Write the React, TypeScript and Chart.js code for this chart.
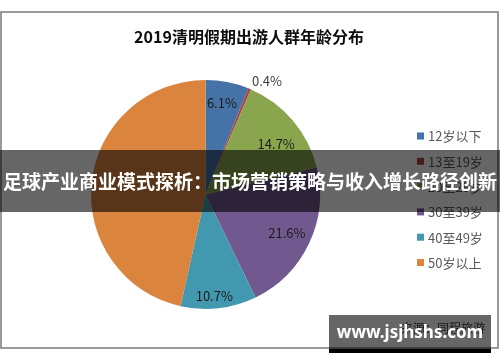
import React, { useEffect, useRef } from "react";
import { Chart, registerables } from "chart.js";

Chart.register(...registerables);

const chartTitle = "2019清明假期出游人群年龄分布";
const categories = ["12岁以下", "13至19岁", "20至29岁", "30至39岁", "40至49岁", "50岁以上"];
const shares = [6.1, 0.4, 14.7, 21.6, 10.7, 46.5];
const valueLabels = ["6.1%", "0.4%", "14.7%", "21.6%", "10.7%", ""];
const sourceText = "来源：同程旅游";
const bannerText = "足球产业商业模式探析：市场营销策略与收入增长路径创新";
const watermarkText = "www.jsjhshs.com";

const sliceColors = ["#4572A7", "#AA4643", "#89A54E", "#71588F", "#4198AF", "#DB843D"];
// label placement: radius fraction and angular nudge (degrees)
const labelPlacement = [
  { r: 0.81, da: -0.8, color: "#1b1b1b" },
  { r: 1.13, da: 5.7, color: "#404040" },
  { r: 0.76, da: 4.5, color: "#1b1b1b" },
  { r: 0.786, da: 0, color: "#1b1b1b" },
  { r: 0.89, da: 1.7, color: "#1b1b1b" },
  { r: 0.6, da: 0, color: "#1b1b1b" },
];

const FONT = '"Noto Sans CJK SC", "Noto Sans", sans-serif';

const decorPlugin = {
  id: "decor",
  afterDraw(chart: any) {
    const ctx = chart.ctx as CanvasRenderingContext2D;
    const meta = chart.getDatasetMeta(0);
    ctx.save();
    // value labels
    ctx.font = `13px ${FONT}`;
    ctx.textAlign = "center";
    ctx.textBaseline = "middle";
    meta.data.forEach((arc: any, i: number) => {
      const txt = valueLabels[i];
      if (!txt) return;
      const p = labelPlacement[i];
      const mid = (arc.startAngle + arc.endAngle) / 2 + (p.da * Math.PI) / 180;
      const R = arc.outerRadius;
      const x = arc.x + Math.cos(mid) * R * p.r;
      const y = arc.y + Math.sin(mid) * R * p.r;
      ctx.fillStyle = p.color;
      ctx.fillText(txt, x, y);
    });
    // legend
    ctx.textAlign = "left";
    ctx.font = `13px ${FONT}`;
    categories.forEach((c, i) => {
      const y = 136 + i * 25.3;
      ctx.fillStyle = sliceColors[i];
      ctx.fillRect(417, y - 3.5, 7, 7);
      ctx.fillStyle = "#595959";
      ctx.fillText(c, 428, y + 0.5);
    });
    // title
    ctx.textAlign = "center";
    ctx.font = `bold 16px ${FONT}`;
    ctx.fillStyle = "#0d0d0d";
    ctx.fillText(chartTitle, 249, 37);
    // source
    ctx.textAlign = "right";
    ctx.font = `12px ${FONT}`;
    ctx.fillStyle = "#404040";
    ctx.fillText(sourceText, 485, 328);
    ctx.restore();
  },
};

export default function App() {
  const ref = useRef<HTMLCanvasElement | null>(null);
  useEffect(() => {
    if (!ref.current) return;
    const chart = new Chart(ref.current, {
      type: "pie",
      data: {
        labels: categories,
        datasets: [
          {
            data: shares,
            backgroundColor: sliceColors,
            borderWidth: 0,
          },
        ],
      },
      options: {
        animation: false,
        responsive: false,
        devicePixelRatio: 1,
        layout: { padding: { left: 91, right: 180, top: 80, bottom: 53 } },
        plugins: {
          legend: { display: false },
          title: { display: false },
          tooltip: { enabled: false },
        },
      },
      plugins: [decorPlugin],
    });
    return () => chart.destroy();
  }, []);

  return (
    <div style={{ position: "fixed", left: 0, top: 0, width: 500, height: 362, background: "#fff", overflow: "hidden" }}>
      <div
        style={{
          position: "absolute",
          left: 0,
          top: 11,
          width: 499,
          height: 338,
          boxSizing: "border-box",
          border: "2px solid #9a9a9a",
        }}
      />
      <canvas ref={ref} width={500} height={362} style={{ position: "absolute", left: 0, top: 0, width: 500, height: 362 }} />
      <div
        style={{
          position: "absolute",
          left: 0,
          top: 150,
          width: 500,
          height: 62,
          background: "rgba(0,0,0,0.6)",
          color: "#fff",
          fontFamily: FONT,
          fontWeight: "bold",
          fontSize: 19,
          lineHeight: "62px",
          textAlign: "center",
          whiteSpace: "nowrap",
        }}
      >
        {bannerText}
      </div>
      <div
        style={{
          position: "absolute",
          left: 329,
          top: 315,
          width: 162,
          height: 34,
          background: "rgba(0,0,0,0.6)",
          color: "#fff",
          fontFamily: '"Noto Sans", sans-serif',
          fontWeight: "bold",
          fontSize: 17,
          lineHeight: "34px",
          textAlign: "center",
          whiteSpace: "nowrap",
          borderBottom: "4px solid #000",
        }}
      >
        {watermarkText}
      </div>
    </div>
  );
}
